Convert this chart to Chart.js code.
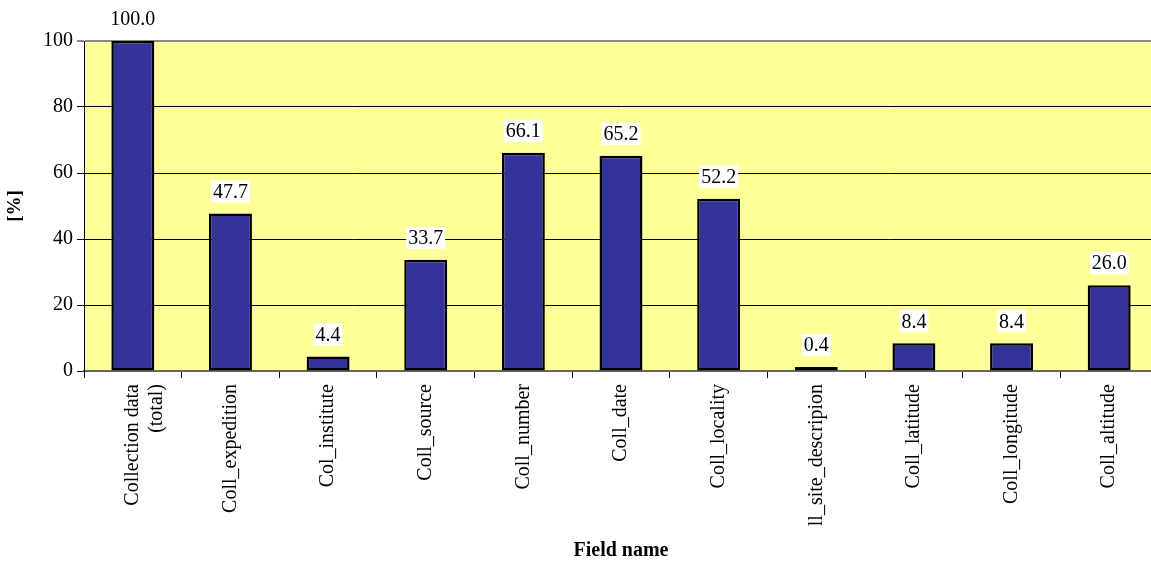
<!DOCTYPE html>
<html>
<head>
<meta charset="utf-8">
<script src="https://cdn.jsdelivr.net/npm/chart.js@4"></script>
<style>
  html, body { margin: 0; padding: 0; background: #fff; overflow: hidden; }
  #wrap { width: 1158px; height: 563px; }
</style>
</head>
<body>
<div id="wrap"><canvas id="fieldChart"></canvas></div>
<script>
const categories = [
    ["Collection data", "(total)"], "Coll_expedition", "Col_institute", "Coll_source",
    "Coll_number", "Coll_date", "Coll_locality", "ll_site_descripion",
    "Coll_latitude", "Coll_longitude", "Coll_altitude"
];
const percentValues = [100.0, 47.7, 4.4, 33.7, 66.1, 65.2, 52.2, 0.4, 8.4, 8.4, 26.0];
const yTicks = [0, 20, 40, 60, 80, 100];

const serif = "'Liberation Serif', 'Times New Roman', serif";

// yellow plot background
const plotBackground = {
    id: "plotBackground",
    beforeDraw(chart) {
        const a = chart.chartArea, c = chart.ctx;
        c.save();
        c.fillStyle = "#FFFF99";
        c.fillRect(a.left, a.top, a.right - a.left, a.bottom - a.top);
        c.restore();
    }
};

// value labels with white box above each bar
const valueLabels = {
    id: "valueLabels",
    afterDatasetsDraw(chart) {
        const c = chart.ctx;
        const meta = chart.getDatasetMeta(0);
        c.save();
        c.font = "20px " + serif;
        c.textAlign = "center";
        c.textBaseline = "middle";
        meta.data.forEach(function (bar, i) {
            const txt = percentValues[i].toFixed(1);
            const w = c.measureText(txt).width + 4;
            const y = bar.y - 22;
            c.fillStyle = "#fff";
            c.fillRect(bar.x - w / 2, y - 11, w, 22);
            c.fillStyle = "#000";
            c.fillText(txt, bar.x, y + 1);
        });
        c.restore();
    }
};

new Chart(document.getElementById("fieldChart"), {
    type: "bar",
    data: {
        labels: categories,
        datasets: [{
            data: percentValues,
            backgroundColor: "#333399",
            borderColor: "#000",
            borderWidth: 2.5,
            borderSkipped: false,
            minBarLength: 4,
            barPercentage: 0.44,
            categoryPercentage: 1.0
        }]
    },
    options: {
        responsive: true,
        maintainAspectRatio: false,
        animation: false,
        layout: { padding: { top: 41, right: 0, left: 0, bottom: 0 } },
        plugins: {
            legend: { display: false },
            tooltip: { enabled: false }
        },
        scales: {
            x: {
                offset: true,
                afterFit: function (s) { s.height = 192; },
                grid: {
                    offset: true,
                    drawOnChartArea: false,
                    drawTicks: true,
                    tickLength: 7,
                    color: "#000"
                },
                border: { color: "#666", width: 2 },
                ticks: {
                    color: "#000",
                    font: { family: serif, size: 20 },
                    maxRotation: 90,
                    minRotation: 90,
                    autoSkip: false,
                    padding: 6
                },
                title: {
                    display: true,
                    text: "Field name",
                    color: "#000",
                    font: { family: serif, size: 20, weight: "bold" },
                    padding: { top: 0, bottom: 0 }
                }
            },
            y: {
                min: 0,
                max: 100,
                afterFit: function (s) { s.width = 84; },
                afterBuildTicks: function (s) {
                    s.ticks = yTicks.map(function (v) { return { value: v }; });
                },
                grid: {
                    color: function (ctx) { return ctx.tick && ctx.tick.value === 100 ? "#888" : "#000"; },
                    lineWidth: function (ctx) { return ctx.tick && ctx.tick.value === 100 ? 2 : 1; },
                    tickLength: 7
                },
                border: { color: "#000", width: 1 },
                ticks: {
                    color: "#000",
                    font: { family: serif, size: 20 },
                    padding: 4
                },
                title: {
                    display: true,
                    text: "[%]",
                    color: "#000",
                    font: { family: serif, size: 19, weight: "bold" },
                    padding: { top: 4, bottom: 0 }
                }
            }
        }
    },
    plugins: [plotBackground, valueLabels]
});
</script>
</body>
</html>
